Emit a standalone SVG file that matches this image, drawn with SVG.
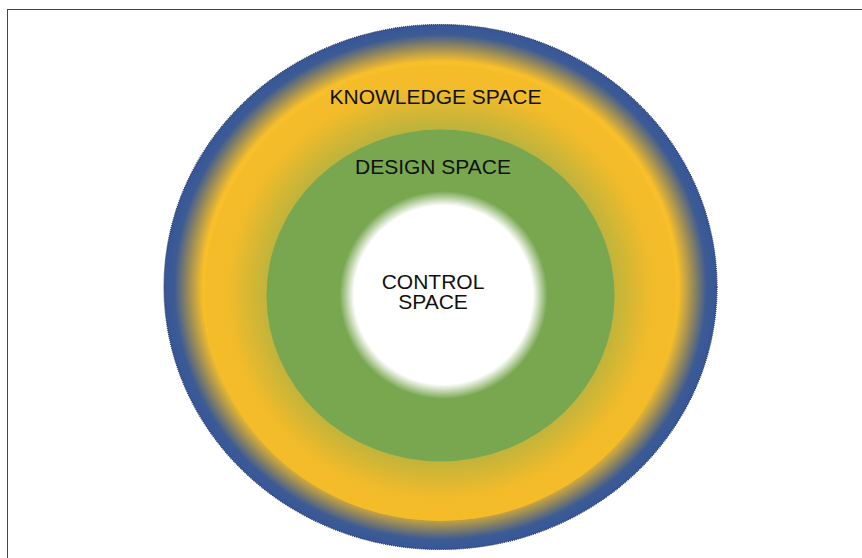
<svg xmlns="http://www.w3.org/2000/svg" width="862" height="558" viewBox="0 0 862 558">
<style>
  .lbl { font-family: "Liberation Sans", Arial, sans-serif; font-size: 21px; fill: #111; text-anchor: middle; }
</style>
<defs>
  <radialGradient id="gOuter" cx="50%" cy="50%" r="50%">
    <stop offset="0" stop-color="#F6BD28"/>
    <stop offset="0.86" stop-color="#F7BF2A"/>
    <stop offset="0.92" stop-color="#8C8460"/>
    <stop offset="0.962" stop-color="#3D5B93"/>
    <stop offset="1" stop-color="#36569A"/>
  </radialGradient>
  <radialGradient id="gInner" cx="50%" cy="50%" r="50%">
    <stop offset="0" stop-color="#B8B23E"/>
    <stop offset="0.72" stop-color="#BCB33D"/>
    <stop offset="0.9" stop-color="#F2BB2A"/>
    <stop offset="1" stop-color="#F5BC28"/>
  </radialGradient>
  <radialGradient id="gCore" cx="50%" cy="50%" r="50%">
    <stop offset="0" stop-color="#FFFFFF"/>
    <stop offset="0.86" stop-color="#FFFFFF"/>
    <stop offset="1" stop-color="#78A750"/>
  </radialGradient>
</defs>
<rect x="7.5" y="9.5" width="900" height="600" fill="#FFFFFF" stroke="#444444" stroke-width="1"/>
<g id="knowledge-space">
  <ellipse cx="440.5" cy="287" rx="276.5" ry="262.5" fill="url(#gOuter)" stroke="#2E3A55" stroke-width="1.2" stroke-dasharray="1 1"/>
  <ellipse cx="440.5" cy="293" rx="236" ry="228" fill="url(#gInner)"/>
  <text class="lbl" x="435.5" y="103.5">KNOWLEDGE SPACE</text>
</g>
<g id="design-space">
  <ellipse cx="440.5" cy="295.5" rx="174" ry="166" fill="#78A750"/>
  <text class="lbl" x="433" y="174">DESIGN SPACE</text>
</g>
<g id="control-space">
  <circle cx="443.5" cy="295" r="104" fill="url(#gCore)"/>
  <text class="lbl" x="433" y="288.5">CONTROL</text>
  <text class="lbl" x="433" y="308.5">SPACE</text>
</g>
<g id="connectors"></g>
</svg>
